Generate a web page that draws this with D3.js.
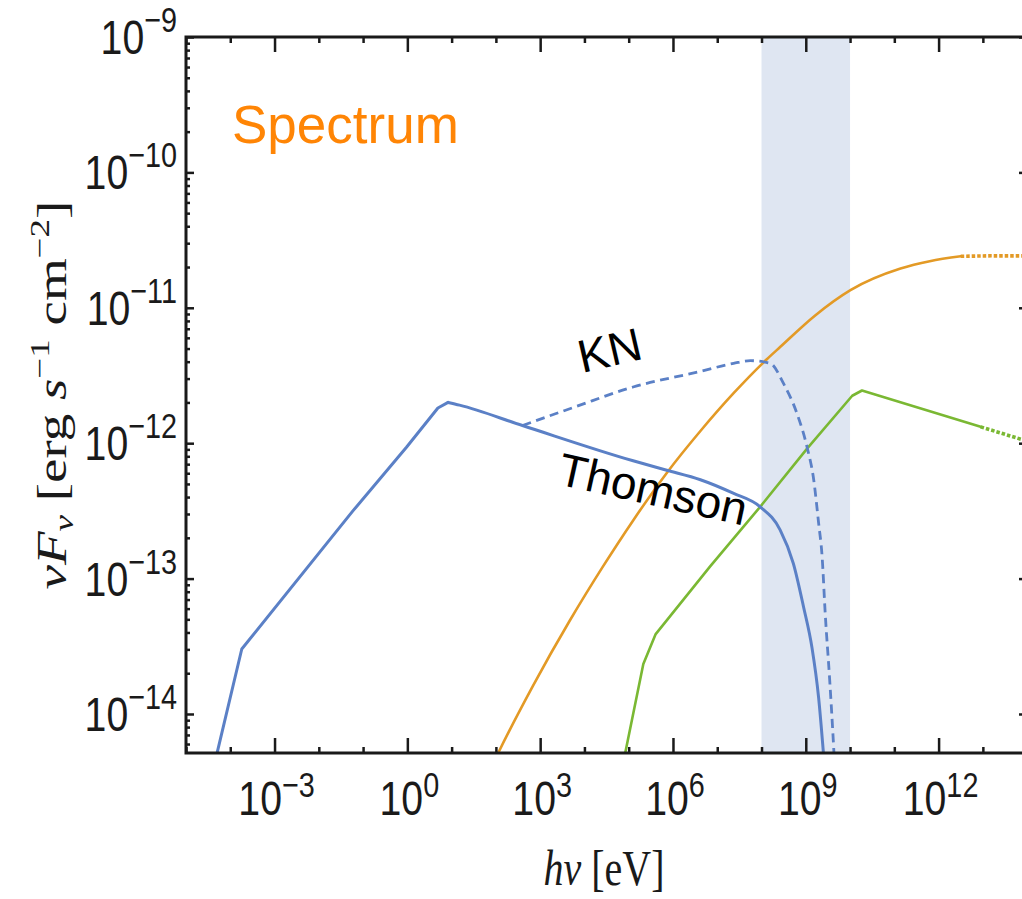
<!DOCTYPE html>
<html>
<head>
<meta charset="utf-8">
<script src="https://cdn.jsdelivr.net/npm/d3@7"></script>
<style>
body { margin: 0; background: #fff; }
svg { display: block; }
</style>
</head>
<body>
<script>
// values: photon energy in eV, nuFnu in erg s^-1 cm^-2
var thomsonE = [2.57e-5, 1.82e-4, 5.89e-2, 0.955, 4.90, 8.32, 15.1, 398, 1.26e5, 7.24e5,
                4.17e6, 2.29e7, 9.33e7, 2.63e8, 5.25e8, 8.91e8, 1.38e9, 1.95e9, 2.45e9, 2.82e9];
var thomsonF = [2.04e-15, 3.02e-14, 3.16e-13, 9.33e-13, 1.82e-12, 2.00e-12, 1.91e-12, 1.35e-12, 7.41e-13, 6.31e-13,
                5.37e-13, 4.27e-13, 3.39e-13, 2.29e-13, 1.29e-13, 6.17e-14, 3.09e-14, 1.32e-14, 5.62e-15, 3.16e-15];
var thomsonPeak = 5; // index of the peak: straight segments before it, smooth cut-off after

var knE = [398, 6310, 1.26e5, 4.17e6, 2.34e7, 5.62e7, 1.58e8, 3.16e8, 6.31e8, 1.07e9,
           1.51e9, 1.95e9, 2.34e9, 2.75e9, 3.47e9, 4.27e9, 4.68e9];
var knF = [1.35e-12, 1.86e-12, 2.60e-12, 3.39e-12, 3.89e-12, 4.07e-12, 3.89e-12, 2.75e-12, 1.66e-12, 9.33e-13,
           5.37e-13, 2.57e-13, 1.45e-13, 5.50e-14, 1.78e-14, 5.62e-15, 3.16e-15];

var orangeE = [79.4, 112, 692, 4680, 2.63e4, 1.26e5, 7.24e5, 4.17e6, 2.34e7, 1.32e8,
               2.63e8, 1.58e9, 1.02e10, 1.38e11, 6.31e11, 3.16e12];
var orangeF = [4.07e-15, 5.13e-15, 1.62e-14, 4.90e-14, 1.23e-13, 2.69e-13, 6.03e-13, 1.23e-12, 2.34e-12, 4.17e-12,
               5.13e-12, 8.71e-12, 1.35e-11, 1.95e-11, 2.21e-11, 2.40e-11];
var orangeTailE = [3.16e12, 1.58e13, 3.16e14];
var orangeTailF = [2.40e-11, 2.42e-11, 2.42e-11];

var greenE = [6.17e4, 8.32e4, 2.14e5, 4.07e5, 6.92e6, 9.33e7, 1.07e9, 1.12e10, 1.86e10, 8.91e12];
var greenF = [3.16e-15, 5.13e-15, 2.34e-14, 3.89e-14, 1.23e-13, 3.39e-13, 9.12e-13, 2.24e-12, 2.45e-12, 1.32e-12];
var greenTailE = [8.91e12, 3.16e14];
var greenTailF = [1.32e-12, 9.23e-13];

var bandE = [1e8, 1e10];

var xTicks = [1e-3, 1, 1e3, 1e6, 1e9, 1e12];
var xTickExp = ["\u22123", "0", "3", "6", "9", "12"];
var yTicks = [1e-9, 1e-10, 1e-11, 1e-12, 1e-13, 1e-14];
var yTickExp = ["\u22129", "\u221210", "\u221211", "\u221212", "\u221213", "\u221214"];

var width = 1022, height = 899;
var plotL = 186, plotT = 37, plotB = 753, plotR = 1027;

var x = d3.scaleLog().domain([1e-5, 1e15]).range([plotL, plotL + 20 * 44.27]);
var y = d3.scaleLog().domain([5.15e-15, 1e-9]).range([plotB, plotT]);

var svg = d3.select("body").append("svg")
    .attr("width", width)
    .attr("height", height);

svg.append("clipPath").attr("id", "plot")
    .append("rect")
    .attr("x", plotL).attr("y", plotT)
    .attr("width", plotR - plotL).attr("height", plotB - plotT);

// shaded energy band
svg.append("rect")
    .attr("x", x(bandE[0]))
    .attr("y", plotT)
    .attr("width", x(bandE[1]) - x(bandE[0]))
    .attr("height", plotB - plotT)
    .attr("fill", "#dfe6f2");

var line = d3.line()
    .x(function(d){ return x(d[0]); })
    .y(function(d){ return y(d[1]); });
var smooth = d3.line()
    .x(function(d){ return x(d[0]); })
    .y(function(d){ return y(d[1]); })
    .curve(d3.curveMonotoneX);

var g = svg.append("g").attr("clip-path", "url(#plot)");

function draw(gen, xs, ys, color, w, dash){
    var p = g.append("path")
        .datum(d3.zip(xs, ys))
        .attr("d", gen)
        .attr("fill", "none")
        .attr("stroke", color)
        .attr("stroke-width", w)
        .attr("stroke-linejoin", "round")
        .attr("stroke-linecap", dash ? "butt" : "round");
    if (dash) p.attr("stroke-dasharray", dash);
}

var blue = "#5b80c6", orange = "#e39a26", green = "#7ab833";
draw(smooth, orangeE, orangeF, orange, 2.6);
draw(line, orangeTailE, orangeTailF, orange, 3.6, "3.5,2");
draw(line, greenE, greenF, green, 2.6);
draw(line, greenTailE, greenTailF, green, 3.6, "3.5,2");
draw(smooth, knE, knF, blue, 2.8, "9,5.5");
draw(line, thomsonE.slice(0, thomsonPeak + 1), thomsonF.slice(0, thomsonPeak + 1), blue, 3);
draw(smooth, thomsonE.slice(thomsonPeak), thomsonF.slice(thomsonPeak), blue, 3);

// frame
svg.append("path")
    .attr("d", "M" + plotR + "," + plotT + "H" + plotL + "V" + plotB + "H" + plotR)
    .attr("fill", "none")
    .attr("stroke", "#1a1a1a")
    .attr("stroke-width", 3);

// ticks
var xMinor = d3.range(-5, 16).filter(function(k){ return k % 3 !== 0; })
    .map(function(k){ return Math.pow(10, k); });
var yMinor = [];
d3.range(-15, -9).forEach(function(k){
    for (var m = 2; m <= 9; m++) yMinor.push(m * Math.pow(10, k));
});
yMinor = yMinor.filter(function(v){ return v > y.domain()[0] && v < 1e-9; });

function ticks(axis, tr, vals, size){
    var a = svg.append("g").attr("transform", tr)
        .call(axis.tickValues(vals).tickSize(size).tickFormat(""));
    a.select(".domain").remove();
    a.selectAll("text").remove();
    a.selectAll("line").attr("stroke", "#1a1a1a").attr("stroke-width", 2.5);
}
ticks(d3.axisTop(x), "translate(0," + plotB + ")", xTicks, 15);
ticks(d3.axisTop(x), "translate(0," + plotB + ")", xMinor, 6);
ticks(d3.axisBottom(x), "translate(0," + plotT + ")", xTicks, 15);
ticks(d3.axisBottom(x), "translate(0," + plotT + ")", xMinor, 6);
ticks(d3.axisRight(y), "translate(" + plotL + ",0)", yTicks, 8);
ticks(d3.axisRight(y), "translate(" + plotL + ",0)", yMinor, 4);
ticks(d3.axisLeft(y), "translate(" + plotR + ",0)", yTicks, 8);
ticks(d3.axisLeft(y), "translate(" + plotR + ",0)", yMinor, 4);

// tick labels 10^n
function power(px, py, exp, anchor, rise){
    var t = svg.append("text")
        .attr("transform", "translate(" + px + "," + py + ") scale(0.8,1)")
        .attr("text-anchor", anchor)
        .attr("font-family", "Liberation Sans, Arial, sans-serif")
        .attr("font-size", 49)
        .attr("fill", "#1a1a1a");
    t.append("tspan").text("10");
    t.append("tspan").attr("font-size", 36).attr("dy", -rise).text(exp);
}
xTicks.forEach(function(v, i){ power(x(v) + 2, 815, xTickExp[i], "middle", 18); });
yTicks.forEach(function(v, i){ power(177, y(v) + 17, yTickExp[i], "end", 22); });

// axis titles
var xt = svg.append("text")
    .attr("transform", "translate(604,885) scale(0.8,1)")
    .attr("text-anchor", "middle")
    .attr("font-family", "Liberation Serif, Times New Roman, serif")
    .attr("font-size", 50)
    .attr("fill", "#1a1a1a");
xt.append("tspan").attr("font-style", "italic").text("h\u03bd");
xt.append("tspan").text(" [eV]");

var yt = svg.append("text")
    .attr("transform", "translate(66,395) rotate(-90) scale(1,0.76)")
    .attr("text-anchor", "middle")
    .attr("font-family", "Liberation Serif, Times New Roman, serif")
    .attr("font-size", 55)
    .attr("fill", "#1a1a1a");
yt.append("tspan").attr("font-style", "italic").text("\u03bdF");
yt.append("tspan").attr("font-style", "italic").attr("font-size", 37).attr("dy", 9).text("\u03bd");
yt.append("tspan").attr("dy", -9).text(" [erg ");
yt.append("tspan").attr("font-style", "italic").text("s");
yt.append("tspan").attr("font-size", 37).attr("dy", -22).text("\u22121");
yt.append("tspan").attr("dy", 22).text(" cm");
yt.append("tspan").attr("font-size", 37).attr("dy", -22).text("\u22122");
yt.append("tspan").attr("dy", 22).text("]");

// annotations
svg.append("text")
    .attr("x", 232).attr("y", 143)
    .attr("font-family", "Liberation Sans, Arial, sans-serif")
    .attr("font-size", 53)
    .attr("fill", "#ff8505")
    .text("Spectrum");

svg.append("text")
    .attr("transform", "translate(582,373) rotate(-13)")
    .attr("font-family", "Liberation Sans, Arial, sans-serif")
    .attr("font-size", 46)
    .attr("fill", "#000")
    .text("KN");

svg.append("text")
    .attr("transform", "translate(556,484) rotate(12.5)")
    .attr("font-family", "Liberation Sans, Arial, sans-serif")
    .attr("font-size", 46)
    .attr("fill", "#000")
    .text("Thomson");
</script>
</body>
</html>
